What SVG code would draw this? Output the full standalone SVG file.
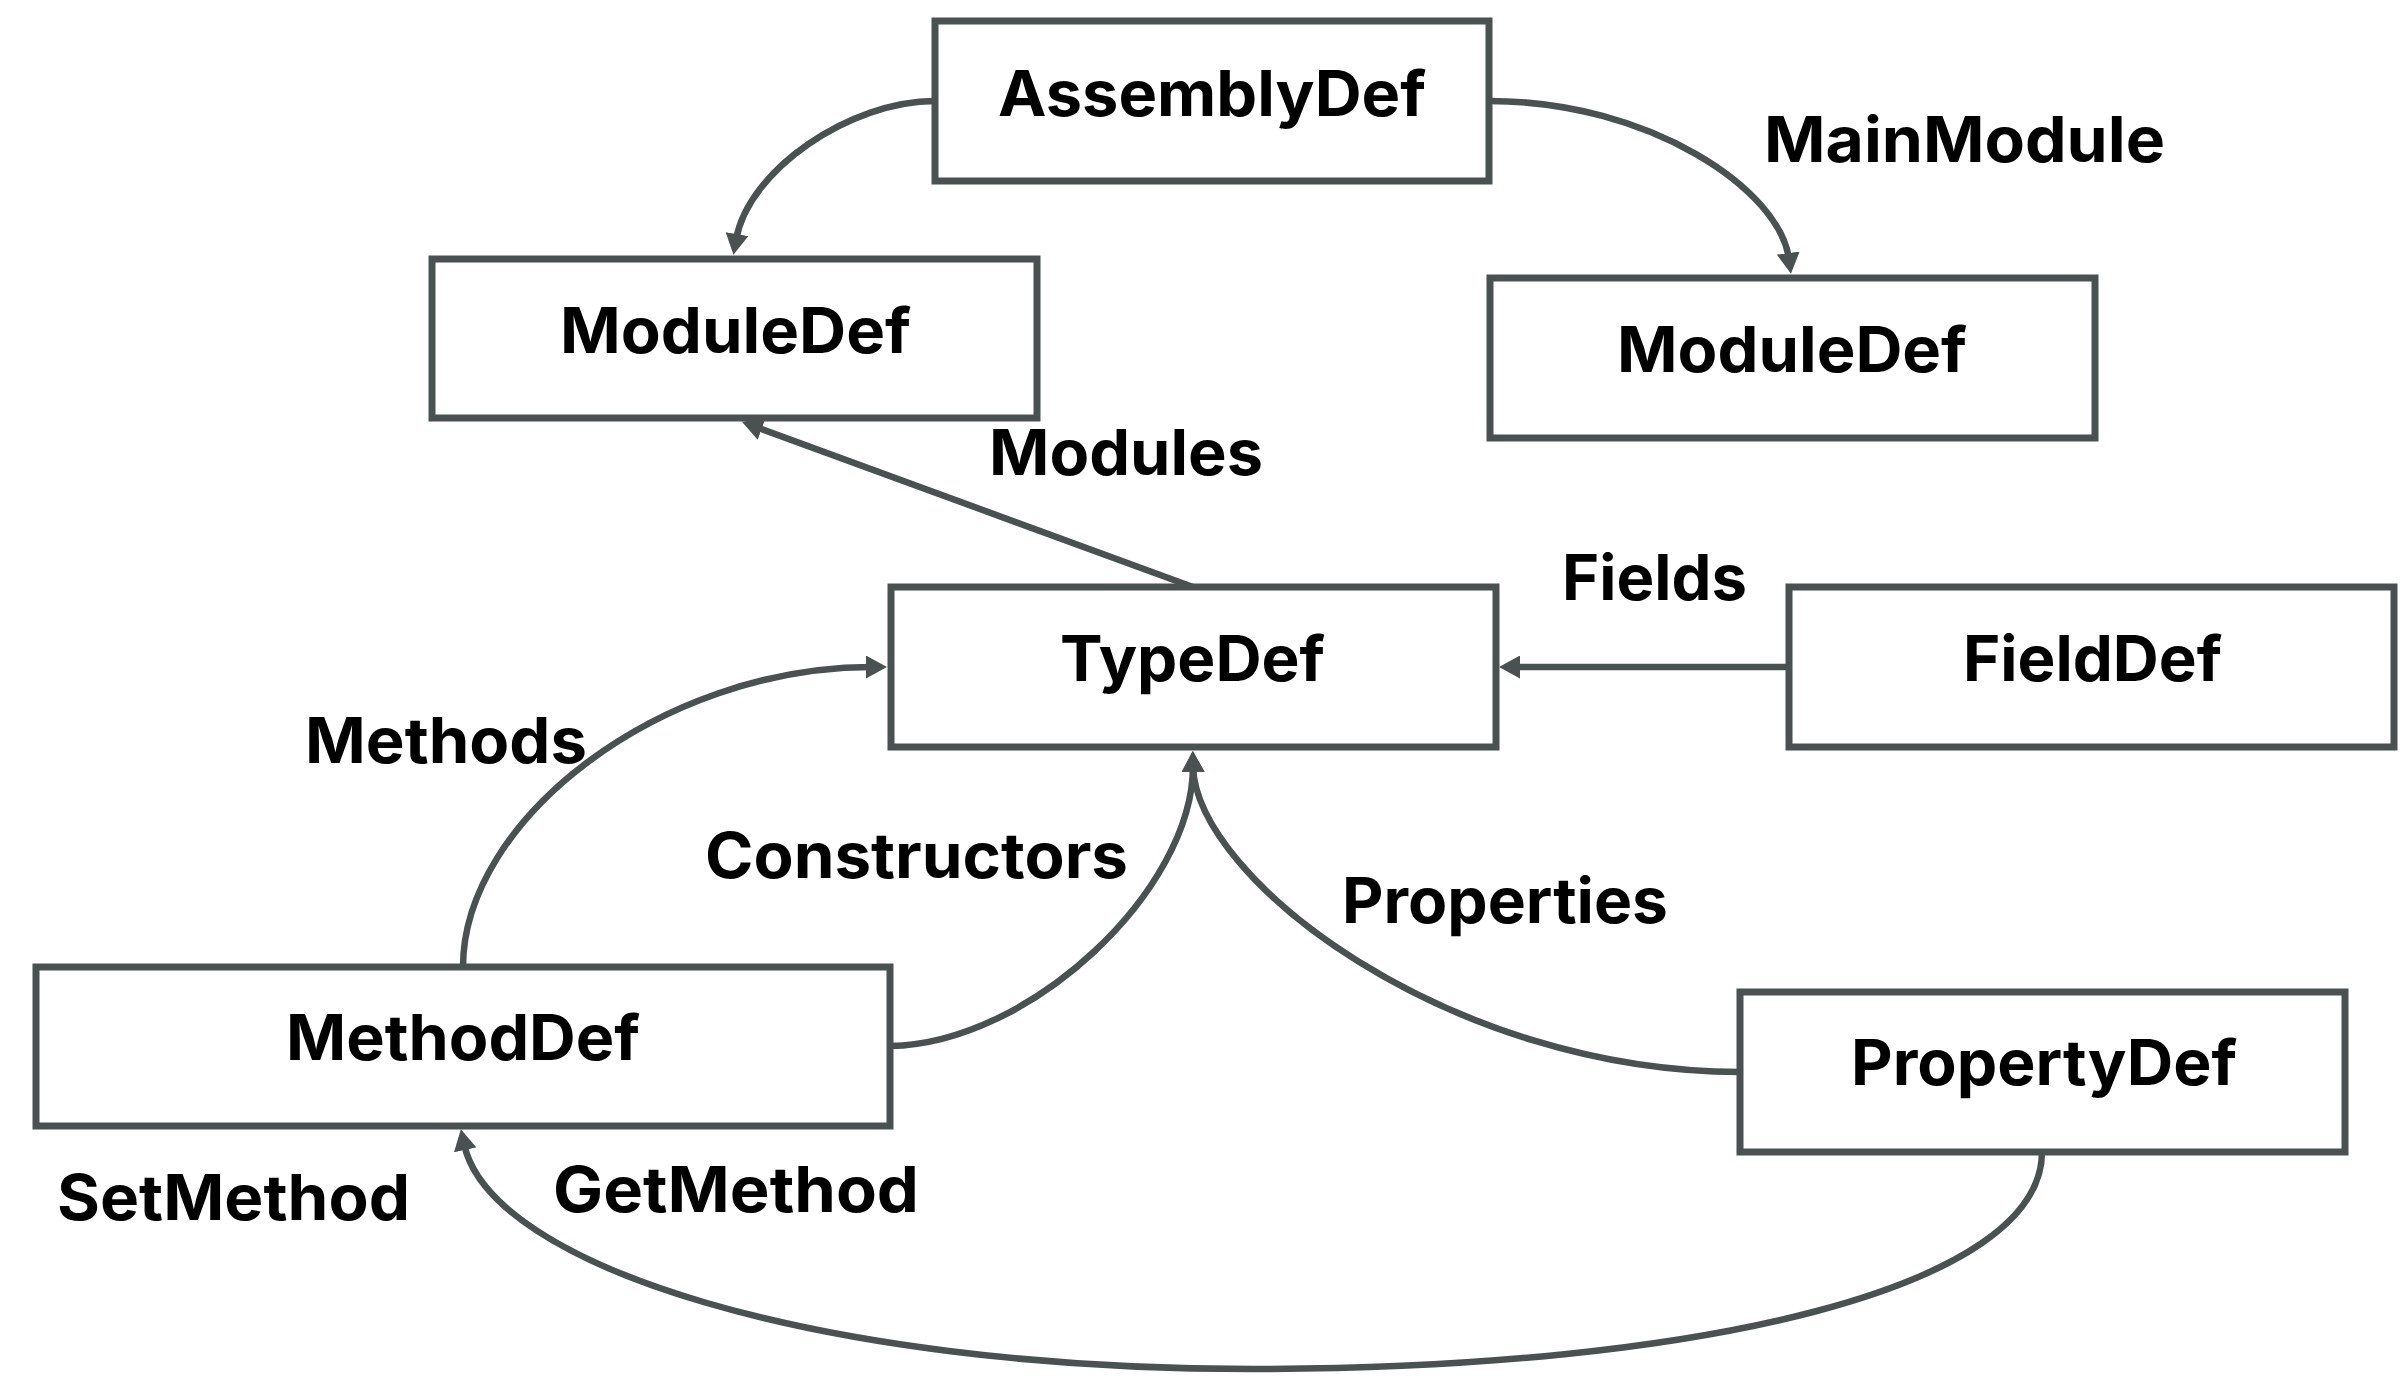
<svg xmlns="http://www.w3.org/2000/svg" width="2408" height="1382" viewBox="0 0 2408 1382">
<style>
.box{fill:#ffffff;stroke:#4b5150;stroke-width:7}
.lbl{font-family:Inter,"Open Sans","Liberation Sans",sans-serif;font-weight:700;font-size:63px;fill:#000000}
.edge{fill:none;stroke:#4b5150;stroke-width:6.5}
</style>
<defs>
<marker id="arr" markerUnits="userSpaceOnUse" viewBox="0 0 21 23" refX="6" refY="11.5" markerWidth="21" markerHeight="23" orient="auto">
<path d="M0,0 L21,11.5 L0,23 z" fill="#4b5150"/>
</marker>
</defs>
<rect width="2408" height="1382" fill="#ffffff"/>
<g id="connectors">
<path class="edge" marker-end="url(#arr)" d="M935,101 C850,101 748,170 736,240"/>
<path class="edge" marker-end="url(#arr)" d="M1489,101 C1650,101 1780,190 1789,259"/>
<path class="edge" marker-end="url(#arr)" d="M1193,587 L756,427"/>
<path class="edge" marker-end="url(#arr)" d="M1789,667 L1514,667"/>
<path class="edge" marker-end="url(#arr)" d="M463,967 C463,820 660,667 872,667"/>
<path class="edge" marker-end="url(#arr)" d="M890,1046 C1030,1044 1193,890 1193,766"/>
<path class="edge" marker-end="url(#arr)" d="M1740,1072 C1450,1072 1196,880 1193,766"/>
<path class="edge" marker-end="url(#arr)" d="M2042,1152 C2042,1288 1700,1369 1252,1369 C816,1369 490,1266 464,1144"/>
</g>
<g id="AssemblyDef"><rect class="box" x="935" y="21" width="554" height="160"/><text class="lbl" x="998" y="116" textLength="428" lengthAdjust="spacingAndGlyphs">AssemblyDef</text></g>
<g id="ModuleDefLeft"><rect class="box" x="432" y="259" width="605" height="159"/><text class="lbl" x="560" y="353" textLength="351" lengthAdjust="spacingAndGlyphs">ModuleDef</text></g>
<g id="ModuleDefRight"><rect class="box" x="1490" y="278" width="605" height="160"/><text class="lbl" x="1617" y="372" textLength="350" lengthAdjust="spacingAndGlyphs">ModuleDef</text></g>
<g id="TypeDef"><rect class="box" x="891" y="587" width="605" height="160"/><text class="lbl" x="1060" y="681" textLength="265" lengthAdjust="spacingAndGlyphs">TypeDef</text></g>
<g id="FieldDef"><rect class="box" x="1789" y="587" width="605" height="160"/><text class="lbl" x="1963" y="681" textLength="259" lengthAdjust="spacingAndGlyphs">FieldDef</text></g>
<g id="MethodDef"><rect class="box" x="36" y="967" width="854" height="159"/><text class="lbl" x="286" y="1060" textLength="354" lengthAdjust="spacingAndGlyphs">MethodDef</text></g>
<g id="PropertyDef"><rect class="box" x="1740" y="992" width="605" height="160"/><text class="lbl" x="1851" y="1085" textLength="386" lengthAdjust="spacingAndGlyphs">PropertyDef</text></g>
<g id="edge-labels">
<text class="lbl" x="1764" y="162" textLength="401" lengthAdjust="spacingAndGlyphs">MainModule</text>
<text class="lbl" x="989" y="475" textLength="274" lengthAdjust="spacingAndGlyphs">Modules</text>
<text class="lbl" x="1562" y="600" textLength="185" lengthAdjust="spacingAndGlyphs">Fields</text>
<text class="lbl" x="305" y="763" textLength="282" lengthAdjust="spacingAndGlyphs">Methods</text>
<text class="lbl" x="705" y="878" textLength="423" lengthAdjust="spacingAndGlyphs">Constructors</text>
<text class="lbl" x="1342" y="923" textLength="326" lengthAdjust="spacingAndGlyphs">Properties</text>
<text class="lbl" x="57" y="1220" textLength="353" lengthAdjust="spacingAndGlyphs">SetMethod</text>
<text class="lbl" x="553" y="1212" textLength="366" lengthAdjust="spacingAndGlyphs">GetMethod</text>
</g>
</svg>
